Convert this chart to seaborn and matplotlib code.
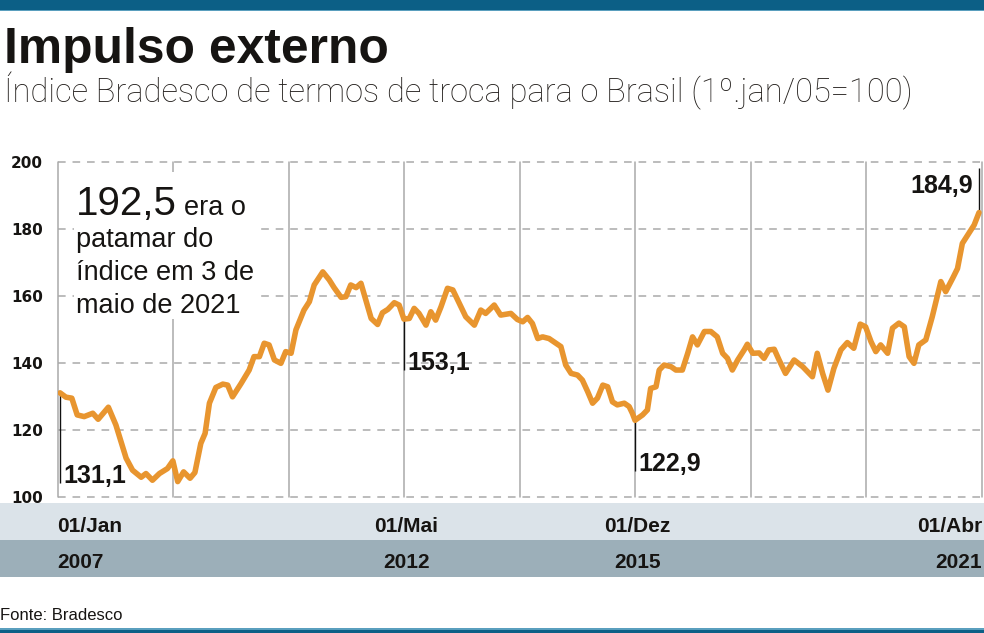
import numpy as np
import pandas as pd
import matplotlib
matplotlib.use("Agg")
import matplotlib.pyplot as plt
import seaborn as sns
from matplotlib.patches import Rectangle
from matplotlib.transforms import blended_transform_factory

# ---------------- data ----------------
# months elapsed since 01/Jan/2007
months = [0, 1.1, 2.2, 3.2, 4.5, 6.1, 7.1, 9.0, 10.4, 12.3, 13.5, 15.1, 16.0, 17.2,
          18.5, 20.0, 21.0, 21.9, 23.0, 24.2, 25.1, 26.2, 27.0, 27.8, 29.0, 30.3,
          31.2, 32.1, 33.7, 35.2, 36.1, 37.1, 38.0, 38.9, 39.9, 41.1, 42.0, 43.0,
          43.9, 45.4, 46.4, 47.3, 48.9, 50.1, 51.0, 52.3, 53.2, 54.1, 55.1, 56.0,
          56.9, 57.9, 59.1, 60.0, 61.0, 62.2, 63.1, 64.0, 65.0, 65.9, 66.8, 68.1,
          69.0, 69.9, 70.9, 72.1, 73.1, 74.3, 75.5, 77.1, 78.3, 79.2, 80.8, 82.0,
          83.9, 85.1, 86.1, 87.0, 87.9, 88.9, 89.8, 91.0, 92.3, 93.2, 94.1, 95.1,
          96.3, 97.2, 98.2, 99.1, 100.0, 101.0, 101.9, 102.8, 103.7, 105.0, 105.9,
          106.5, 107.0, 108.4, 109.3, 109.9, 110.9, 111.5, 112.4, 113.7, 114.6,
          115.8, 116.8, 117.7, 118.6, 119.9, 121.1, 122.3, 123.3, 124.2, 125.1,
          126.1, 127.3, 127.9, 128.9, 130.1, 131.0, 131.9, 132.9, 133.8, 135.0,
          136.6, 138.2, 140.0, 140.9, 141.9, 142.9, 144.0, 145.3, 146.5, 147.7,
          148.9, 149.9, 150.9, 151.8, 152.7, 154.0, 154.9, 156.1, 157.1, 158.0,
          158.9, 159.8, 161.1, 162.3, 163.9, 164.8, 166.1, 167.0, 167.9, 169.1,
          170.1, 171.0]
index_values = [131.1, 129.8, 129.5, 124.5, 124.0, 125.0, 123.2, 126.8, 121.5, 111.6,
                108.0, 105.9, 107.0, 105.0, 107.0, 108.5, 110.8, 104.6, 107.5, 105.6,
                107.3, 116.0, 119.0, 128.0, 132.7, 133.7, 133.4, 129.9, 133.9, 137.9,
                141.9, 141.9, 145.9, 145.4, 140.9, 139.9, 143.4, 142.9, 149.9, 155.8,
                158.3, 163.3, 167.2, 164.8, 162.5, 159.6, 159.8, 163.3, 162.5, 163.8,
                158.8, 153.3, 151.5, 155.0, 156.0, 158.0, 157.3, 153.1, 153.3, 156.3,
                154.8, 151.3, 155.3, 152.8, 156.8, 162.3, 161.8, 157.8, 153.8, 151.3,
                155.8, 154.8, 157.3, 154.3, 154.8, 153.0, 152.3, 153.6, 151.8, 147.3,
                147.8, 147.3, 145.9, 144.9, 139.4, 136.9, 136.4, 134.9, 131.4, 128.0,
                129.5, 133.4, 132.9, 128.4, 127.5, 128.0, 127.0, 125.0, 122.9, 124.5,
                126.0, 132.4, 132.9, 137.9, 139.4, 138.9, 137.9, 137.9, 142.9, 147.8,
                145.4, 149.4, 149.4, 147.8, 142.9, 141.4, 137.9, 140.9, 143.9, 145.6,
                142.9, 143.0, 141.4, 143.9, 144.1, 140.9, 136.9, 140.9, 138.9, 135.9,
                142.9, 136.9, 131.9, 138.4, 143.9, 146.1, 144.4, 151.6, 150.8, 146.4,
                143.4, 145.4, 142.9, 150.4, 151.9, 150.8, 141.9, 139.9, 145.4, 146.9,
                153.8, 164.3, 161.3, 165.3, 168.2, 175.7, 178.7, 181.2, 184.9]

tick_months = [0, 64, 107, 171]
tick_days = ["01/Jan", "01/Mai", "01/Dez", "01/Abr"]
tick_years = ["2007", "2012", "2015", "2021"]
y_ticks = [100, 120, 140, 160, 180, 200]

callout_months = [0, 64, 107, 171]

title = "Impulso externo"
subtitle = "Índice Bradesco de termos de troca para o Brasil (1º.jan/05=100)"
note_number = "192,5"
note_lines = ["era o", "patamar do", "índice em 3 de", "maio de 2021"]
source = "Fonte: Bradesco"

# ---------------- style ----------------
sns.set_theme(style="white")
plt.rcParams["font.family"] = ["Liberation Sans", "DejaVu Sans"]

W, H = 984, 633
fig = plt.figure(figsize=(W / 100, H / 100), dpi=100)
fig.patch.set_facecolor("white")


def fx(px):
    return px / W


def fy(py):
    return 1 - py / H


DARK_BLUE = "#0c5f86"
LIGHT_BLUE = "#5a9fbe"
ORANGE = "#E8952F"
GRID = "#a9a9a9"
TXT = "#161412"

# top and bottom bars, date bands
for (y0, y1, c) in [(0, 9.5, DARK_BLUE), (9.5, 11, LIGHT_BLUE),
                    (627.5, 629.5, LIGHT_BLUE), (629.5, 633, DARK_BLUE),
                    (503, 539.5, "#dbe3e9"), (539.5, 577, "#9cafb9")]:
    fig.add_artist(Rectangle((0, fy(y1)), 1, (y1 - y0) / H, transform=fig.transFigure,
                             fc=c, ec="none", zorder=0))

NARROW = ["Liberation Sans Narrow", "Liberation Sans", "DejaVu Sans"]

t_title = fig.text(fx(4), fy(63), title, fontsize=34.6, fontweight="bold",
                   family=["Liberation Sans", "DejaVu Sans"], color=TXT, va="baseline")
t_sub = fig.text(fx(4), fy(102), subtitle, fontsize=24, family=["Roboto", "DejaVu Sans"],
                 fontweight="light", color="#231f1c", va="baseline")
fig.text(fx(0), fy(620.5), source, fontsize=12, family=NARROW, color=TXT, va="baseline")

# ---------------- axes ----------------
ax = fig.add_axes([fx(57.5), fy(497), (982 - 57.5) / W, 335 / H])
px_per_month = (979 - 60) / 171
xlim = (-(60 - 57.5) / px_per_month, 171 + (982 - 979) / px_per_month)

df = pd.DataFrame({"mes": months, "indice": index_values})
sns.lineplot(data=df, x="mes", y="indice", ax=ax, color=ORANGE, lw=4,
             solid_joinstyle="round", solid_capstyle="round", zorder=3)

ax.set_xlim(*xlim)
ax.set_ylim(100, 200)
ax.set_xlabel("")
ax.set_ylabel("")
ax.set_facecolor("white")
for s in ax.spines.values():
    s.set_visible(False)

ax.set_xticks(np.linspace(xlim[0], xlim[1], 9))
ax.set_xticklabels([])
ax.set_yticks(y_ticks)
ax.set_yticklabels([str(v) for v in y_ticks], fontsize=11, fontweight="bold",
                   family=["DejaVu Sans"], color=TXT)
ax.tick_params(axis="both", length=0)
ax.tick_params(axis="y", pad=10.5)
ax.set_axisbelow(True)
ax.grid(axis="x", color=GRID, lw=1.1, ls="-")
ax.grid(axis="y", color=GRID, lw=1.1, ls=(0, (5, 4.5)))
for gl in ax.get_xgridlines() + ax.get_ygridlines():
    gl.set_clip_on(False)

# x band labels (positioned through the data scale)
bt = blended_transform_factory(ax.transData, fig.transFigure)
for i, (m, d, y) in enumerate(zip(tick_months, tick_days, tick_years)):
    ha = "left" if i == 0 else ("right" if i == len(tick_months) - 1 else "center")
    off = -0.5 if i == 0 else (0.55 if i == len(tick_months) - 1 else 0.4)
    ax.text(m + off, fy(531.5), d, transform=bt, ha=ha, va="baseline", fontsize=15,
            fontweight="bold", color=TXT, clip_on=False)
    ax.text(m + off, fy(568.5), y, transform=bt, ha=ha, va="baseline", fontsize=15,
            fontweight="bold", color=TXT, clip_on=False)

# white box behind the note
ax.add_artist(Rectangle((fx(74), fy(319)), (258 - 74) / W, (319 - 172) / H,
                        transform=fig.transFigure, fc="white", ec="none",
                        zorder=1.5, clip_on=False))
fig.text(fx(76), fy(215), note_number, fontsize=29, color=TXT, va="baseline")
fig.text(fx(184), fy(215), note_lines[0], fontsize=19.5, color=TXT, va="baseline")
for k, line in enumerate(note_lines[1:]):
    fig.text(fx(76), fy(247 + 33 * k), line, fontsize=19.5, color=TXT, va="baseline")

# callouts
lookup = dict(zip(months, index_values))
label_levels = [104.2, 137.9, 107.8, 190.7]
line_ends = [104.2, 137.9, 107.8, 198.2]
for i, m in enumerate(callout_months):
    v = lookup[m]
    ax.vlines(m, min(v, line_ends[i]), max(v, line_ends[i]), color="#111111",
              lw=1.0, zorder=2.5)
    txt = f"{v:.1f}".replace(".", ",")
    if i == len(callout_months) - 1:
        ax.annotate(txt, xy=(m, label_levels[i]), xytext=(-6, 0),
                    textcoords="offset pixels", ha="right", va="baseline",
                    fontsize=18, fontweight="bold", family=NARROW, color=TXT)
    else:
        ax.annotate(txt, xy=(m, label_levels[i]), xytext=(3, 0),
                    textcoords="offset pixels", ha="left", va="baseline",
                    fontsize=18, fontweight="bold", family=NARROW, color=TXT)

# fit header widths to the reference layout
fig.canvas.draw()
r = fig.canvas.get_renderer()
for t, target in [(t_title, 384), (t_sub, 911)]:
    w = t.get_window_extent(r).width
    t.set_fontsize(t.get_fontsize() * target / w)

fig.savefig("out.png", dpi=100, facecolor="white")
